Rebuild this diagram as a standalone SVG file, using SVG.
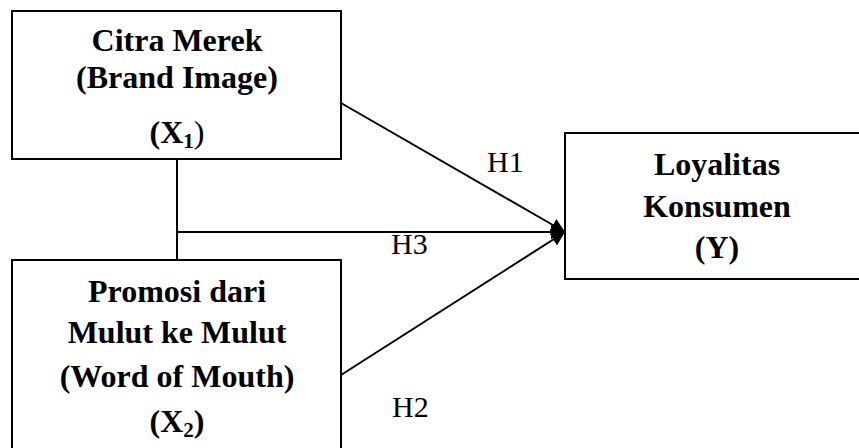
<svg xmlns="http://www.w3.org/2000/svg" width="859" height="448" viewBox="0 0 859 448">
<defs>
<style>
.box{fill:#fff;stroke:#000;stroke-width:2}
.t{font-family:'Liberation Serif','DejaVu Serif',serif;font-weight:bold;font-size:32px;text-anchor:middle;fill:#000}
.h{font-family:'Liberation Serif','DejaVu Serif',serif;font-size:30px;fill:#000}
.ln{stroke:#000;stroke-width:2;fill:none}
</style>
<marker id="ah" viewBox="0 0 14 14" refX="14" refY="7" markerWidth="14" markerHeight="14" markerUnits="userSpaceOnUse" orient="auto">
<path d="M0,0 L14,7 L0,14 Z" fill="#000"/>
</marker>
</defs>
<rect width="859" height="448" fill="#fff"/>
<g id="connectors">
<line class="ln" x1="177" y1="159" x2="177" y2="260"/>
<line class="ln" x1="177" y1="232" x2="565" y2="232" marker-end="url(#ah)"/>
<line class="ln" x1="341" y1="103" x2="565" y2="232" marker-end="url(#ah)"/>
<line class="ln" x1="341" y1="375" x2="565" y2="232" marker-end="url(#ah)"/>
</g>
<g id="x1">
<rect class="box" x="12" y="11" width="329" height="148"/>
<text class="t" x="177" y="51">Citra Merek</text>
<text class="t" x="177" y="88">(Brand Image)</text>
<text class="t" x="177" y="143">(X<tspan font-size="21" dy="5">1</tspan><tspan dy="-5" font-weight="normal">)</tspan></text>
</g>
<g id="x2">
<rect class="box" x="12" y="260" width="329" height="200"/>
<text class="t" x="177" y="302">Promosi dari</text>
<text class="t" x="177" y="343">Mulut ke Mulut</text>
<text class="t" x="177" y="387">(Word of Mouth)</text>
<text class="t" x="177" y="432">(X<tspan font-size="21" dy="5">2</tspan><tspan dy="-5">)</tspan></text>
</g>
<g id="y">
<rect class="box" x="565" y="133" width="310" height="146"/>
<text class="t" x="717" y="175">Loyalitas</text>
<text class="t" x="717" y="217">Konsumen</text>
<text class="t" x="717" y="258">(Y)</text>
</g>
<g id="labels">
<text class="h" x="487" y="172">H1</text>
<text class="h" x="391" y="254">H3</text>
<text class="h" x="392" y="417">H2</text>
</g>
</svg>
